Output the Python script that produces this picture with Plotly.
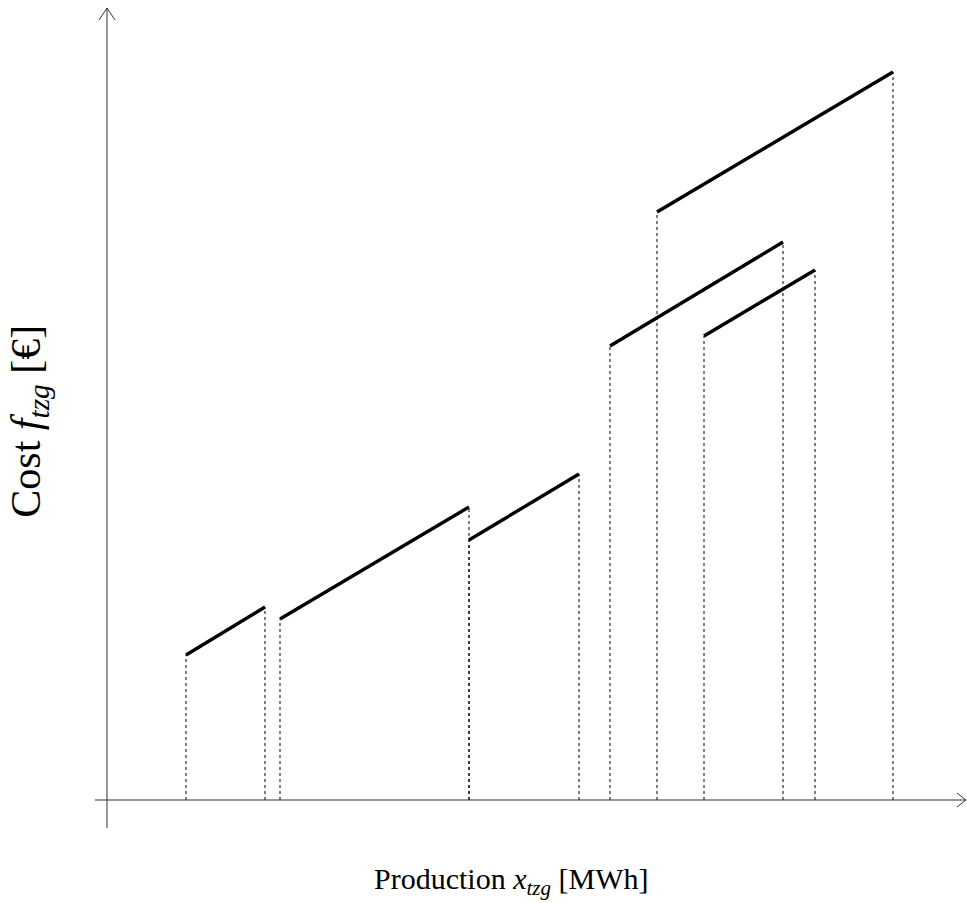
import plotly.graph_objects as go

# Segment data (production start/end, cost start/end)
x_start = [7.9, 17.3, 36.2, 50.3, 55.0, 59.7]
x_end = [15.8, 36.2, 47.2, 67.6, 78.6, 70.8]
y_start = [14.5, 18.1, 26.0, 45.4, 58.8, 46.4]
y_end = [19.3, 29.3, 32.6, 55.8, 72.8, 53.0]

x_label = "Production <i>x</i><sub><i>tzg</i></sub> [MWh]"
y_label = "Cost <i>f</i><sub><i>tzg</i></sub> [€]"

fig = go.Figure()

# dotted guides
dx, dy = [], []
for xs, xe, ys, ye in zip(x_start, x_end, y_start, y_end):
    dx += [xs, xs, None, xe, xe, None]
    dy += [0, ys, None, 0, ye, None]
fig.add_trace(go.Scatter(x=dx, y=dy, mode="lines",
                         line=dict(color="black", width=1, dash="dot"),
                         hoverinfo="skip", showlegend=False))

# axes with open arrowheads
fig.add_trace(go.Scatter(x=[-1.2, 85.8, None, 85.0, 85.9, 85.0],
                         y=[0, 0, None, 0.7, 0, -0.7],
                         mode="lines", line=dict(color="#333", width=1),
                         hoverinfo="skip", showlegend=False))
fig.add_trace(go.Scatter(x=[0, 0, None, -0.8, 0, 0.8],
                         y=[-2.8, 79.2, None, 78.0, 79.2, 78.0],
                         mode="lines", line=dict(color="#333", width=1),
                         hoverinfo="skip", showlegend=False))

# cost segments
sx, sy = [], []
for xs, xe, ys, ye in zip(x_start, x_end, y_start, y_end):
    sx += [xs, xe, None]
    sy += [ys, ye, None]
fig.add_trace(go.Scatter(x=sx, y=sy, mode="lines",
                         line=dict(color="black", width=3.4),
                         hoverinfo="skip", showlegend=False))

serif = "Liberation Serif, DejaVu Serif, serif"
fig.add_annotation(x=0.5285, y=0.024, xref="paper", yref="paper", text=x_label,
                   showarrow=False, font=dict(family=serif, size=30, color="black"),
                   xanchor="center", yanchor="middle")
fig.add_annotation(x=0.03, y=0.533, xref="paper", yref="paper", text=y_label,
                   showarrow=False, font=dict(family=serif, size=42, color="black"),
                   textangle=-90, xanchor="center", yanchor="middle")

fig.update_layout(
    width=967, height=903,
    margin=dict(l=0, r=0, t=0, b=0),
    plot_bgcolor="white", paper_bgcolor="white",
    xaxis=dict(range=[-10.7, 86.0], visible=False, fixedrange=True),
    yaxis=dict(range=[-10.3, 80.0], visible=False, fixedrange=True),
)

fig.write_html("out.html")
